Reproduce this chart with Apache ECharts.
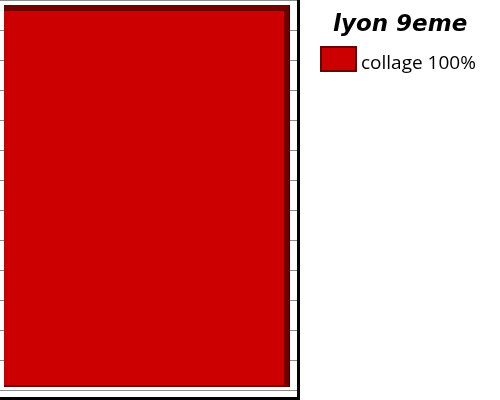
<!DOCTYPE html>
<html>
<head>
<meta charset="utf-8">
<script src="https://cdn.jsdelivr.net/npm/echarts@6/dist/echarts.min.js"></script>
<style>html,body{margin:0;padding:0;background:#fff}#c{width:500px;height:400px}</style>
</head>
<body>
<div id="c"></div>
<script>
var categories = ['lyon 9eme'];
var seriesNames = ['collage 100%'];
var collage = [100];
var gridTicks = [0, 130, 10];

var chart = echarts.init(document.getElementById('c'), null, {renderer: 'canvas'});
chart.setOption({
  animation: false,
  backgroundColor: '#ffffff',
  title: {
    text: categories[0],
    left: 328, top: 9,
    textStyle: {fontFamily: 'DejaVu Sans', fontWeight: 'bold', fontStyle: 'italic', fontSize: 23, color: '#000'}
  },
  legend: {
    left: 320, top: 46, padding: 0,
    itemWidth: 35, itemHeight: 24, itemGap: 6,
    icon: 'rect',
    itemStyle: {color: '#cc0000', borderColor: '#6e0000', borderWidth: 2},
    formatter: '{t|{name}}',
    textStyle: {
      fontFamily: 'Open Sans', fontSize: 19, color: '#000',
      rich: {t: {fontFamily: 'Open Sans', fontSize: 19, color: '#000', padding: [10, 0, 0, 0]}}
    },
    data: seriesNames
  },
  grid: [
    {left: 0, top: 0, width: 297, height: 390},
    {left: 4, top: 11, width: 280, height: 374}
  ],
  xAxis: [
    {gridIndex: 0, type: 'category', data: categories, show: false},
    {gridIndex: 1, type: 'category', data: categories, show: false}
  ],
  yAxis: [
    {gridIndex: 0, type: 'value', min: gridTicks[0], max: gridTicks[1], interval: gridTicks[2],
     axisLabel: {show: false}, axisLine: {show: false}, axisTick: {show: false},
     splitLine: {show: true, lineStyle: {color: '#8c8c8c', width: 1}}},
    {gridIndex: 1, type: 'value', min: 0, max: 100, show: false, splitLine: {show: false}}
  ],
  series: [{
    name: seriesNames[0],
    type: 'custom',
    xAxisIndex: 1, yAxisIndex: 1,
    itemStyle: {color: '#cc0000'},
    renderItem: function (params, api) {
      var base = api.coord([api.value(0), 0]);
      var top = api.coord([api.value(0), api.value(1)]);
      var w = api.size([1, 0])[0];
      var x0 = base[0] - w / 2;
      var h = base[1] - top[1];
      return {
        type: 'group',
        children: [
          {type: 'rect', shape: {x: x0, y: top[1] - 6, width: w + 6, height: h + 8},
           style: {fill: '#700000'}},
          {type: 'rect', shape: {x: x0 + w + 5, y: top[1] - 6, width: 1, height: h + 8},
           style: {fill: '#3a0000'}},
          {type: 'rect', shape: {x: x0, y: top[1], width: w, height: h},
           style: {fill: '#cc0000'}}
        ]
      };
    },
    encode: {x: 0, y: 1},
    data: collage.map(function (v, i) { return [i, v]; })
  }],
  graphic: [
    {type: 'rect', shape: {x: 297, y: 0, width: 3, height: 400}, style: {fill: '#000'}, z: 100},
    {type: 'rect', shape: {x: 0, y: 397, width: 300, height: 3}, style: {fill: '#000'}, z: 100}
  ]
});
</script>
</body>
</html>
